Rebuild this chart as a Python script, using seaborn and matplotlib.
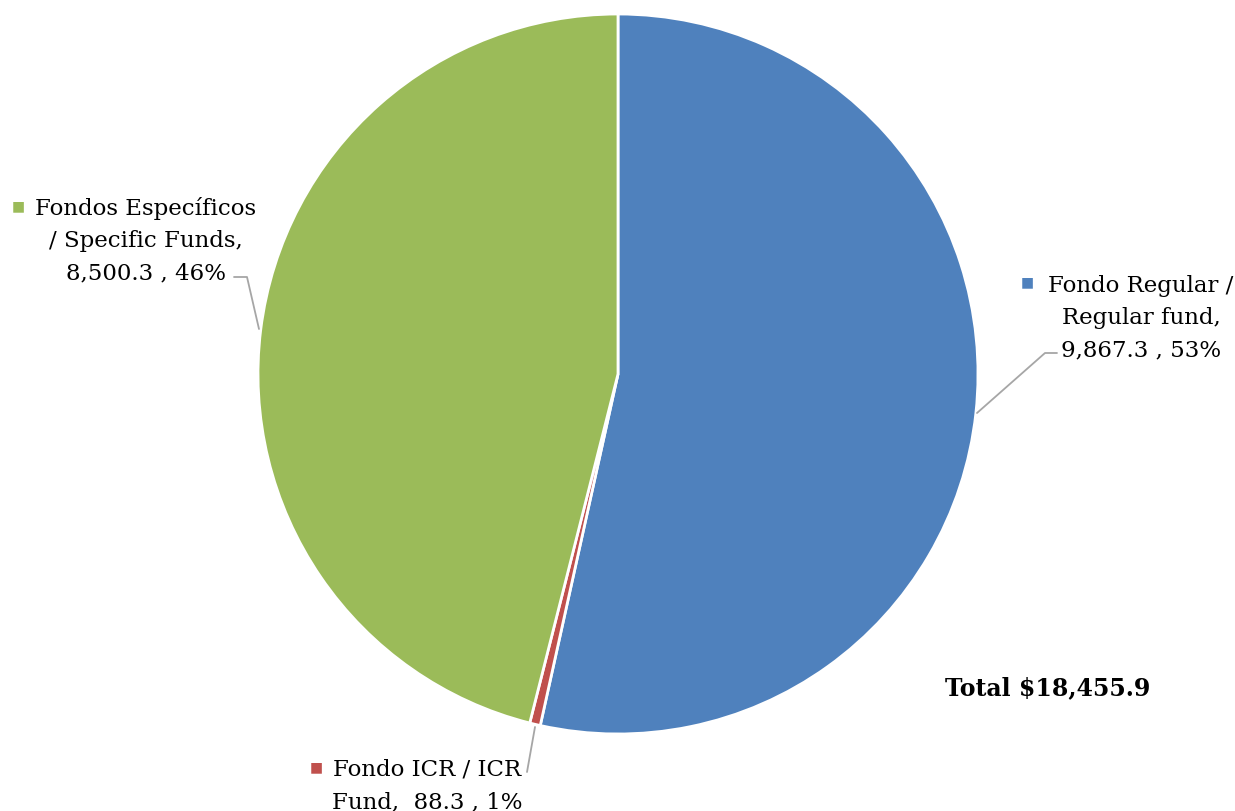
import matplotlib
matplotlib.use('Agg')
from matplotlib import pyplot as plt
import seaborn as sns

# Data
funds = ['Fondo Regular / Regular fund', 'Fondo ICR / ICR Fund', 'Fondos Específicos / Specific Funds']
amounts = [9867.3, 88.3, 8500.3]
percent_text = ['53%', '1%', '46%']
colors = ['#4F81BD', '#C0504D', '#9BBB59']
total_label = 'Total $18,455.9'

sns.set_theme(style='white')
plt.rcParams['font.family'] = ['DejaVu Serif', 'DejaVu Sans']

W, H = 1235, 811
fig = plt.figure(figsize=(W / 100, H / 100), dpi=100)


def px(x, y):
    return x / W, 1 - y / H


# pie centred at (618, 374) px with radius 360 px
cx, cy, r = 618, 374, 360
ax = fig.add_axes([(cx - r) / W, (H - cy - r) / H, 2 * r / W, 2 * r / H])
ax.pie(amounts, colors=colors, startangle=90, counterclock=False,
       wedgeprops={'linewidth': 2, 'edgecolor': 'white'})
ax.set_xlim(-1, 1)
ax.set_ylim(-1, 1)
ax.set_aspect('auto')
ax.axis('off')

# wrap the labels the way the reference does
lines = [
    ['Fondo Regular /', 'Regular fund,', f'{amounts[0]:,.1f} , {percent_text[0]}'],
    ['Fondo ICR / ICR', f'Fund,  {amounts[1]:,.1f} , {percent_text[1]}'],
    ['Fondos Específicos', '/ Specific Funds,', f'{amounts[2]:,.1f} , {percent_text[2]}'],
]

fs = 16.5
centre_x = [1141, 427, 146]
baselines = [[292, 324, 356], [775, 808], [215, 247, 279]]
key_pos = [(1027, 282), (316, 767), (18, 206)]
for block, c, tx, ys, (kx, ky) in zip(lines, colors, centre_x, baselines, key_pos):
    for txt, ty in zip(block, ys):
        fig.text(*px(tx, ty), txt, ha='center', va='baseline', fontsize=fs,
                 color='black')
    fig.text(*px(kx, ky), '■', ha='center', va='center', fontsize=10,
             color=c, family='DejaVu Sans')

# leader lines
leaders = [
    [(977, 413), (1045, 353), (1057, 353)],
    [(535, 727), (527, 772)],
    [(234, 277), (247, 277), (259, 329)],
]
for pts in leaders:
    xs = [px(x, y)[0] for x, y in pts]
    ys = [px(x, y)[1] for x, y in pts]
    fig.add_artist(plt.Line2D(xs, ys, color='#A6A6A6', linewidth=1.3))

fig.text(*px(1048, 695), total_label, ha='center', va='baseline',
         fontsize=17, fontweight='bold', color='black')

fig.savefig('out.png', dpi=100)
